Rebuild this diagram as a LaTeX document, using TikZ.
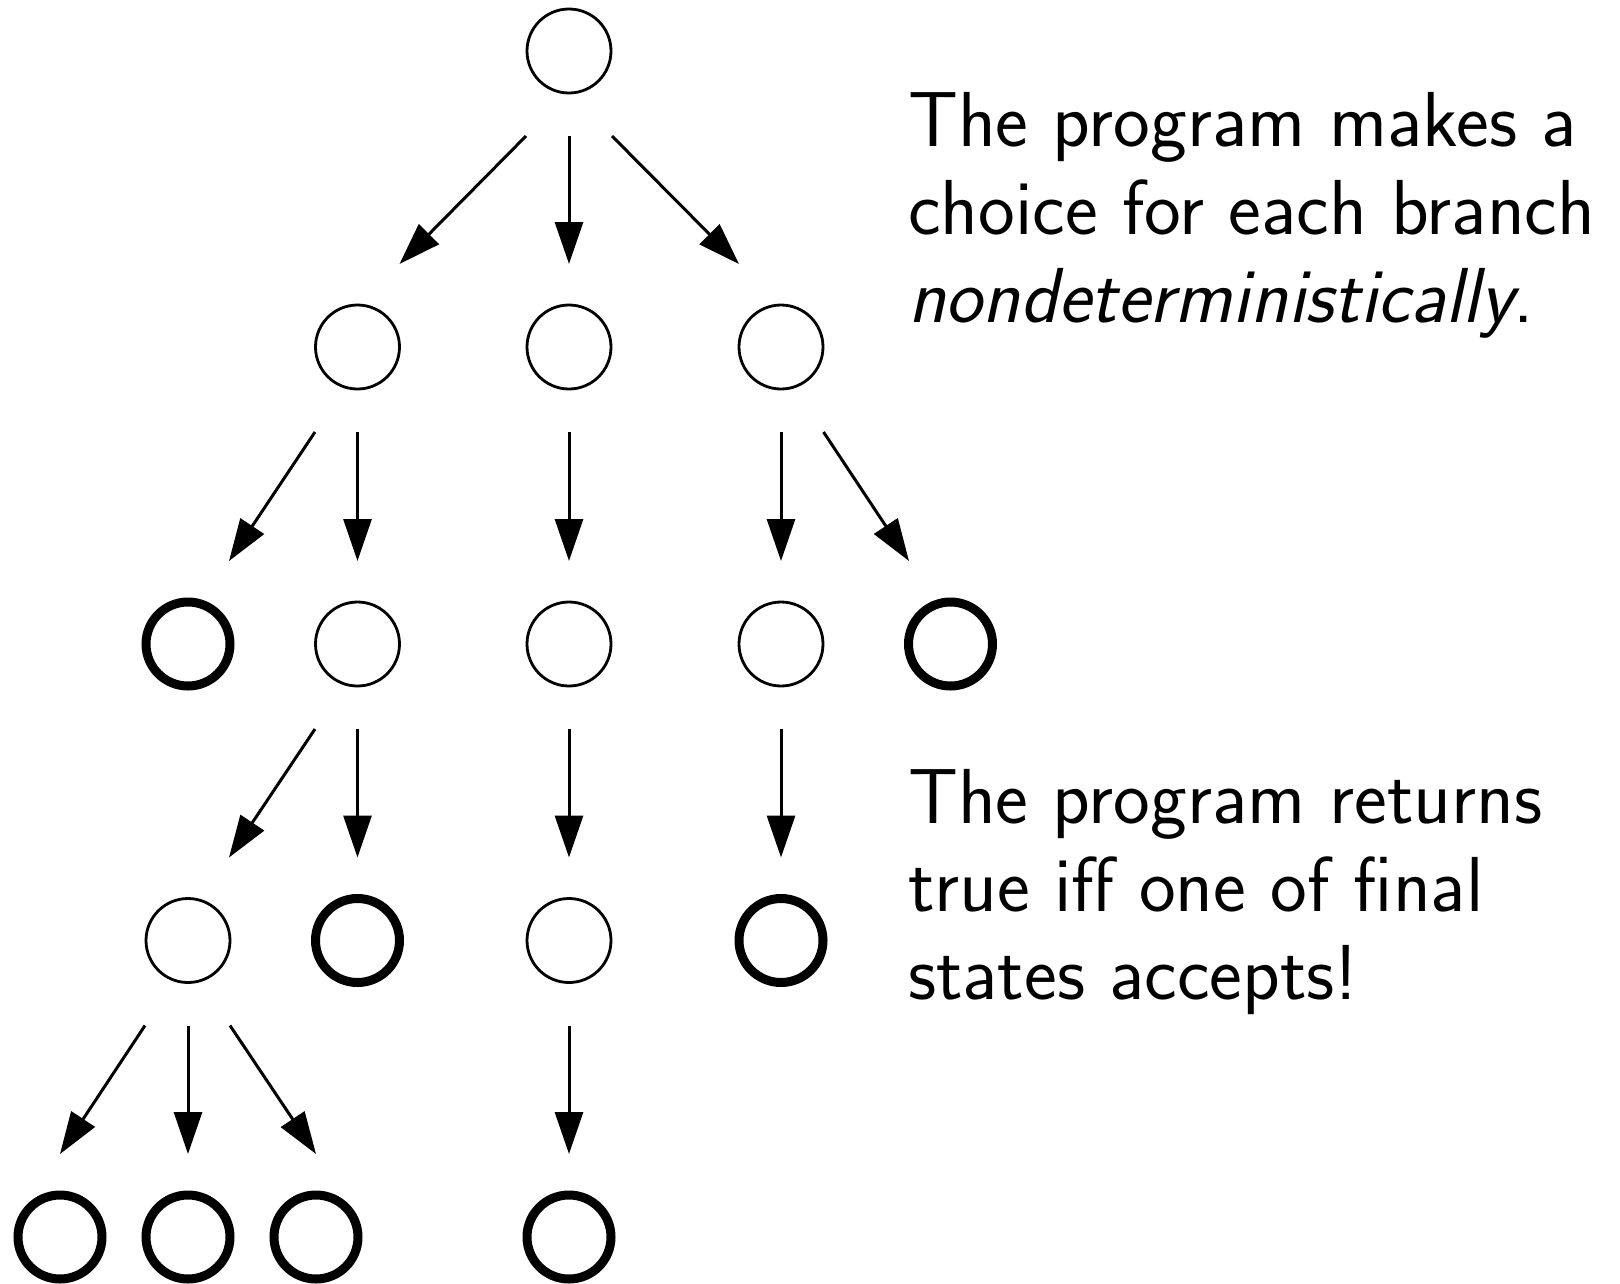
\documentclass[tikz,border=0pt]{standalone}
\usepackage{fontspec}
\usetikzlibrary{arrows.meta}
\tikzset{
  state/.style={circle, draw, line width=2.8pt, minimum size=84pt, inner sep=0pt},
  final/.style={state, line width=9pt},
  arr/.style={line width=3pt, -{Triangle[length=42pt,width=28pt]}},
  note/.style={anchor=base west, align=left, inner sep=0pt,
    font=\sffamily\fontsize{78}{88}\selectfont}
}
\begin{document}
\begin{tikzpicture}[x=1pt,y=-1pt]
\useasboundingbox (0,0) rectangle (1620,1283);

% states, level by level
\node[state] (r)   at (569,51) {};
\node[state] (a)   at (357.5,347) {};
\node[state] (b)   at (569,347) {};
\node[state] (c)   at (781,347) {};
\node[final] (aa)  at (188,644) {};
\node[state] (ab)  at (357.5,644) {};
\node[state] (ba)  at (569,644) {};
\node[state] (ca)  at (781,644) {};
\node[final] (cb)  at (950.5,644) {};
\node[state] (aba) at (188,940.5) {};
\node[final] (abb) at (357.5,940.5) {};
\node[state] (baa) at (569,940.5) {};
\node[final] (caa) at (781,940.5) {};
\node[final] (x1)  at (60,1237) {};
\node[final] (x2)  at (188,1237) {};
\node[final] (x3)  at (316,1237) {};
\node[final] (x4)  at (569,1237) {};

% transitions
\draw[arr] ([shift={(-43,85)}]r.center) -- ([shift={(42,-83)}]a.center);
\draw[arr] ([shift={(0,85)}]r.center)   -- ([shift={(0,-83)}]b.center);
\draw[arr] ([shift={(43,85)}]r.center)  -- ([shift={(-42,-83)}]c.center);

\draw[arr] ([shift={(-42.5,85)}]a.center) -- ([shift={(41,-83)}]aa.center);
\draw[arr] ([shift={(0,85)}]a.center)     -- ([shift={(0,-83)}]ab.center);
\draw[arr] ([shift={(0,85)}]b.center)     -- ([shift={(0,-83)}]ba.center);
\draw[arr] ([shift={(0,85)}]c.center)     -- ([shift={(0,-83)}]ca.center);
\draw[arr] ([shift={(42.5,85)}]c.center)  -- ([shift={(-41.5,-83)}]cb.center);

\draw[arr] ([shift={(-42.5,85)}]ab.center) -- ([shift={(41,-83)}]aba.center);
\draw[arr] ([shift={(0,85)}]ab.center)     -- ([shift={(0,-83)}]abb.center);
\draw[arr] ([shift={(0,85)}]ba.center)     -- ([shift={(0,-83)}]baa.center);
\draw[arr] ([shift={(0,85)}]ca.center)     -- ([shift={(0,-83)}]caa.center);

\draw[arr] ([shift={(-43,85)}]aba.center) -- ([shift={(0,-83)}]x1.center);
\draw[arr] ([shift={(0,85)}]aba.center)   -- ([shift={(0,-83)}]x2.center);
\draw[arr] ([shift={(42,85)}]aba.center)  -- ([shift={(0,-83)}]x3.center);
\draw[arr] ([shift={(0,85)}]baa.center)   -- ([shift={(0,-83)}]x4.center);

% explanations (anchored on the baseline of their last line)
\node[note] (t1) at (908,322.7) {The program makes a\\choice for each branch\\\textit{nondeterministically}.};
\node[note] (t2) at (908,999.3) {The program returns\\true iff one of final\\states accepts!};
\end{tikzpicture}
\end{document}
